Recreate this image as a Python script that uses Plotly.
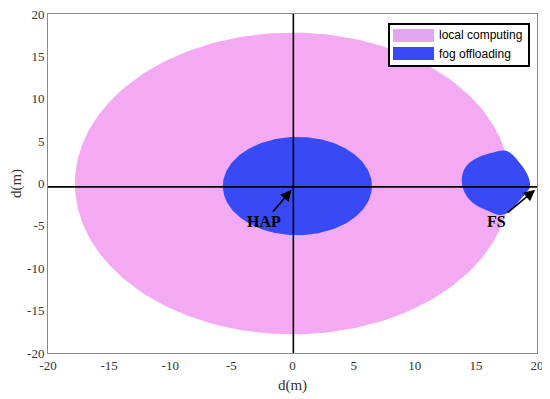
import numpy as np
import plotly.graph_objects as go

# ---- data ----
axis_range = [-20, 20]
tick_values = [-20, -15, -10, -5, 0, 5, 10, 15, 20]
tick_labels = ["-20", "-15", "-10", "-5", "0", "5", "10", "15", "20"]

# local computing region (circle around the HAP)
local_center = [0.0, 0.0]
local_radius = [17.8, 17.8]

# fog offloading region near the HAP (ellipse)
hap_fog_center = [0.4, -0.3]
hap_fog_radius = [6.1, 5.8]

# fog offloading region near the FS (boundary)
fs_fog_x = [13.84, 14.11, 14.79, 16.16, 16.97, 17.52, 18.61, 19.29, 19.43,
            19.29, 18.61, 17.52, 16.16, 14.79, 14.11, 13.84]
fs_fog_y = [0.41, -1.16, -2.34, -3.33, -3.72, -3.52, -1.95, -0.77, -0.38,
            0.80, 2.38, 3.83, 3.56, 2.77, 1.83, 0.41]

# cross lines and node positions
cross_x = [0.07]
cross_y = [-0.4]
hap_pos = [-0.07, -0.75]
hap_label = [-2.3, -4.5]
fs_pos = [19.85, -0.75]
fs_label = [16.7, -4.5]

legend_names = ["local computing", "fog offloading"]

pink = "#F4AAF2"
blue = "#384AF6"
legend_colors = ["#E2A6F0", blue]

# page geometry: the html body has an 8px margin, so the figure is offset
OFF = 8
W, H = 550, 399
ML, MR, MT, MB = 48, 13, 14, 46          # plot-area edges in page pixels
PW, PH = W - ML - MR, H - MT - MB


def px(xp):
    return (xp - ML) / PW


def py(yp):
    return (H - MB - yp) / PH


def ellipse(center, radius, n=240):
    t = np.linspace(0, 2 * np.pi, n)
    return center[0] + radius[0] * np.cos(t), center[1] + radius[1] * np.sin(t)


fig = go.Figure()

lx, ly = ellipse(local_center, local_radius)
fig.add_trace(go.Scatter(x=lx, y=ly, fill="toself", fillcolor=pink, mode="lines",
                         line=dict(width=0, color=pink), name=legend_names[0],
                         hoverinfo="skip"))

hx, hy = ellipse(hap_fog_center, hap_fog_radius)
fig.add_trace(go.Scatter(x=hx, y=hy, fill="toself", fillcolor=blue, mode="lines",
                         line=dict(width=0, color=blue), name=legend_names[1],
                         hoverinfo="skip"))
fig.add_trace(go.Scatter(x=fs_fog_x, y=fs_fog_y, fill="toself", fillcolor=blue,
                         mode="lines", line=dict(width=0, color=blue, shape="spline"),
                         name=legend_names[1], hoverinfo="skip"))

# cross lines
fig.add_trace(go.Scatter(x=axis_range, y=[cross_y[0], cross_y[0]], mode="lines",
                         line=dict(color="black", width=1.6), hoverinfo="skip"))
fig.add_trace(go.Scatter(x=[cross_x[0], cross_x[0]], y=axis_range, mode="lines",
                         line=dict(color="black", width=1.6), hoverinfo="skip"))

for pos, lab, txt in [(hap_pos, hap_label, "HAP"), (fs_pos, fs_label, "FS")]:
    fig.add_annotation(x=pos[0], y=pos[1], ax=lab[0], ay=lab[1],
                       xref="x", yref="y", axref="x", ayref="y",
                       text="<b>%s</b>" % txt, showarrow=True,
                       arrowhead=2, arrowsize=1.4, arrowwidth=1.6, arrowcolor="black",
                       font=dict(family="Liberation Serif", size=16, color="black"))

# manual legend (box, swatches, labels)
fig.add_shape(type="rect", xref="paper", yref="paper",
              x0=px(389), x1=px(529), y0=py(66), y1=py(24),
              line=dict(color="black", width=2), fillcolor="white")
sw_rows = [(29, 42), (47, 60)]
for (y0, y1), name, col in zip(sw_rows, legend_names, legend_colors):
    fig.add_shape(type="rect", xref="paper", yref="paper",
                  x0=px(393), x1=px(434), y0=py(y1), y1=py(y0),
                  line=dict(width=0), fillcolor=col)
    fig.add_annotation(x=px(437), y=py((y0 + y1) / 2), xref="paper", yref="paper",
                       text=name, showarrow=False, xanchor="left", yanchor="middle",
                       font=dict(family="Liberation Sans", size=12, color="black"))

axis_common = dict(range=axis_range, tickvals=tick_values, ticktext=tick_labels,
                   showgrid=False, automargin=False, ticklabeloverflow="allow",
                   zeroline=False, showline=True, linecolor="#8a8a8a", linewidth=1,
                   mirror=True, ticks="",
                   tickfont=dict(family="Liberation Serif", size=13, color="#333333"),
                   title_font=dict(family="Liberation Serif", size=15, color="#333333"))

fig.update_xaxes(**axis_common, title_text="d(m)", title_standoff=7)
fig.update_yaxes(**axis_common, title_text="d(m)", title_standoff=4)

fig.update_layout(
    width=W - OFF, height=H - OFF,
    margin=dict(l=ML - OFF, r=MR, t=MT - OFF, b=MB),
    plot_bgcolor="white", paper_bgcolor="white",
    showlegend=False,
)

fig.write_html("out.html")
